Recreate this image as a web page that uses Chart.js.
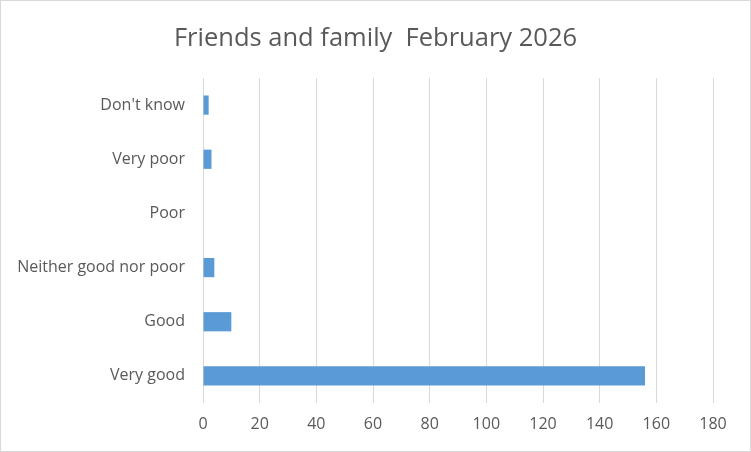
<!DOCTYPE html>
<html>
<head>
<meta charset="utf-8">
<script src="https://cdn.jsdelivr.net/npm/chart.js@4/dist/chart.umd.min.js"></script>
<style>
  html, body { margin: 0; padding: 0; background: #ffffff; }
  #wrap { position: relative; width: 751px; height: 452px; box-sizing: border-box; border: 1px solid #d9d9d9; background: #fff; }
  canvas { position: absolute; left: -1px; top: -1px; }
</style>
</head>
<body>
<div id="wrap"><canvas id="c" width="751" height="452"></canvas></div>
<script>
const chartTitle = "Friends and family  February 2026";
const categories = ["Don't know", "Very poor", "Poor", "Neither good nor poor", "Good", "Very good"];
const responses = [2, 3, 0, 4, 10, 156];
const xMin = 0, xMax = 180, xStep = 20;

const FONT = "'Open Sans', Lato, sans-serif";
const TEXT = "#595959";

new Chart(document.getElementById('c'), {
  type: 'bar',
  data: {
    labels: categories,
    datasets: [{
      label: 'Responses',
      data: responses,
      backgroundColor: '#5b9bd5',
      borderWidth: 0,
      categoryPercentage: 1.0,
      barPercentage: 0.355
    }]
  },
  options: {
    indexAxis: 'y',
    responsive: false,
    animation: false,
    devicePixelRatio: 1,
    layout: { padding: 0 },
    plugins: {
      legend: { display: false },
      tooltip: { enabled: false },
      title: {
        display: true,
        text: chartTitle,
        color: TEXT,
        font: { family: FONT, size: 25.5, weight: 'normal' },
        padding: { top: 23.5, bottom: 23.9 }
      }
    },
    scales: {
      x: {
        min: xMin, max: xMax,
        ticks: { stepSize: xStep, color: TEXT, font: { family: FONT, size: 16 }, padding: 12 },
        grid: { color: '#d9d9d9', lineWidth: 1, drawTicks: false },
        border: { display: false },
        afterFit: (s) => { s.height = 49; }
      },
      y: {
        ticks: { color: TEXT, font: { family: FONT, size: 16 }, padding: 18 },
        grid: { display: false, drawTicks: false },
        border: { display: false },
        afterFit: (s) => { s.width = 203; }
      },
      yRight: {
        type: 'category',
        position: 'right',
        labels: categories,
        ticks: { display: false },
        grid: { display: false, drawTicks: false },
        border: { display: false },
        afterFit: (s) => { s.width = 38; }
      }
    }
  }
});
</script>
</body>
</html>
